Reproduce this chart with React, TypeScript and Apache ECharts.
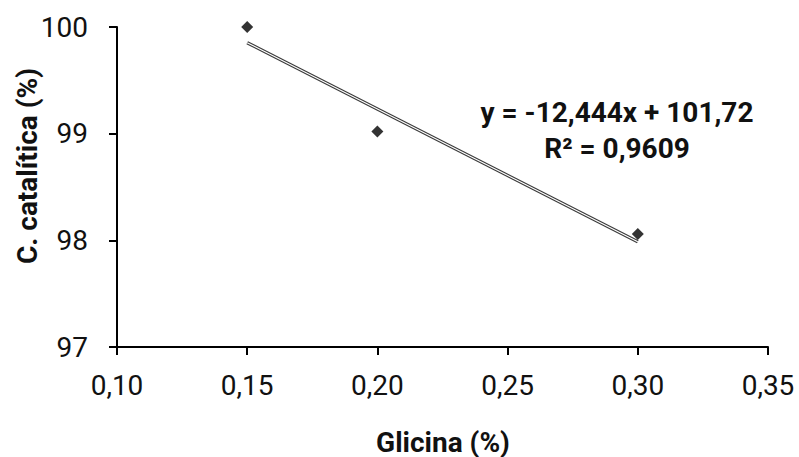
import React, { useEffect, useRef } from "react";
import * as echarts from "echarts";

const glicina = [0.15, 0.2, 0.3];
const catalitica = [100, 99.02, 98.06];
const trendX = [0.15, 0.3];
const trendY = [99.853, 97.987];
const xTicks = { min: 0.1, max: 0.35, interval: 0.05 };
const yTicks = { min: 97, max: 100, interval: 1 };
const equationLines = ["y = -12,444x + 101,72", "R² = 0,9609"];
const xTitle = "Glicina (%)";
const yTitle = "C. catalítica (%)";

export default function App() {
  const ref = useRef<HTMLDivElement>(null);
  useEffect(() => {
    if (!ref.current) return;
    const chart = echarts.init(ref.current, null, { renderer: "svg" });
    const font = "Roboto, 'Liberation Sans', Arial, sans-serif";
    const points = glicina.map((x, i) => [x, catalitica[i]]);
    const trend = trendX.map((x, i) => [x, trendY[i]]);
    chart.setOption({
      animation: false,
      backgroundColor: "#ffffff",
      grid: { left: 117, right: 31, top: 27, bottom: 110 },
      xAxis: {
        type: "value",
        min: xTicks.min,
        max: xTicks.max,
        interval: xTicks.interval,
        axisLine: { show: true, onZero: false, lineStyle: { color: "#000", width: 2 } },
        axisTick: { show: true, inside: false, length: 8, lineStyle: { color: "#000", width: 2 } },
        splitLine: { show: false },
        axisLabel: {
          color: "#111",
          fontFamily: font,
          fontSize: 28,
          margin: 24,
          formatter: (v: number) => v.toFixed(2).replace(".", ","),
        },
      },
      yAxis: {
        type: "value",
        min: yTicks.min,
        max: yTicks.max,
        interval: yTicks.interval,
        axisLine: { show: true, onZero: false, lineStyle: { color: "#000", width: 2 } },
        axisTick: { show: true, inside: false, length: 8, lineStyle: { color: "#000", width: 2 } },
        splitLine: { show: false },
        axisLabel: {
          color: "#111",
          fontFamily: font,
          fontSize: 28,
          margin: 29,
          formatter: (v: number) => String(v),
        },
      },
      graphic: [
        {
          type: "text",
          x: 443,
          y: 442,
          style: {
            text: xTitle,
            font: `bold 28px ${font}`,
            fill: "#111",
            align: "center",
            verticalAlign: "middle",
          },
        },
        {
          type: "text",
          x: 27,
          y: 166,
          rotation: Math.PI / 2,
          style: {
            text: yTitle,
            font: `bold 28px ${font}`,
            fill: "#111",
            align: "center",
            verticalAlign: "middle",
          },
        },
        {
          type: "text",
          x: 617,
          y: 112,
          style: {
            text: equationLines[0],
            font: `bold 28px ${font}`,
            fill: "#111",
            align: "center",
            verticalAlign: "middle",
          },
        },
        {
          type: "text",
          x: 617,
          y: 148,
          style: {
            text: equationLines[1],
            font: `bold 28px ${font}`,
            fill: "#111",
            align: "center",
            verticalAlign: "middle",
          },
        },
      ],
      series: [
        {
          type: "line",
          data: trend,
          symbol: "none",
          lineStyle: { color: "#3a3a3a", width: 3.4 },
          z: 2,
        },
        {
          type: "line",
          data: trend,
          symbol: "none",
          lineStyle: { color: "#ffffff", width: 1.2 },
          z: 3,
        },
        {
          type: "scatter",
          data: points,
          symbol: "diamond",
          symbolSize: 12,
          itemStyle: { color: "#000" },
          z: 4,
        },
      ],
    });
    return () => chart.dispose();
  }, []);
  return (
    <div
      ref={ref}
      style={{ position: "fixed", left: 0, top: 0, width: 799, height: 457 }}
    />
  );
}
